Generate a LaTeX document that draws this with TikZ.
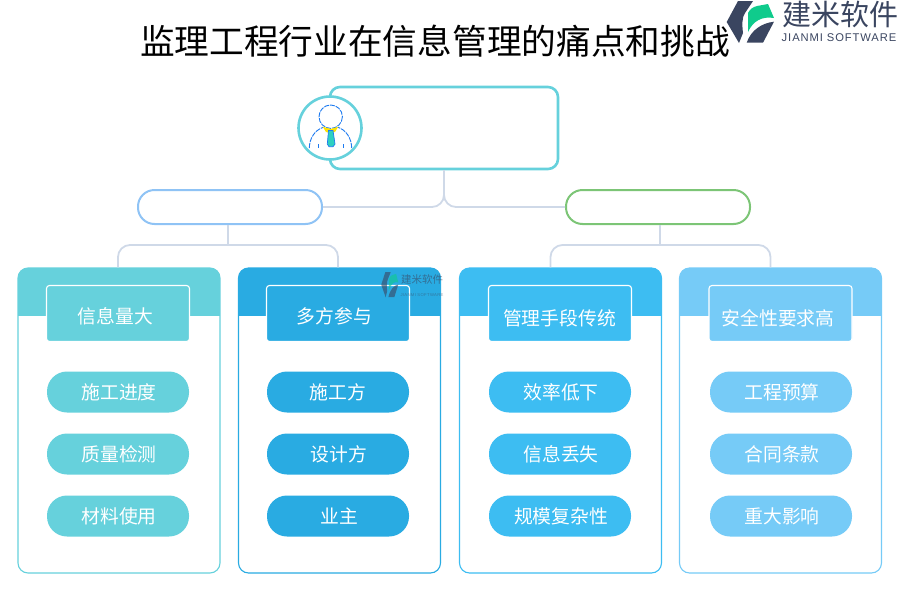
\documentclass[tikz,border=0pt]{standalone}
\usepackage{fontspec}
\setmainfont{Noto Sans CJK SC}
\newfontfamily\latinfont[LetterSpace=8]{Liberation Sans}
\definecolor{cola}{HTML}{66D1DC}
\definecolor{colb}{HTML}{29ABE2}
\definecolor{colc}{HTML}{3DBDF2}
\definecolor{cold}{HTML}{76CBF7}
\definecolor{conncol}{HTML}{CFD9E8}
\definecolor{groupblue}{HTML}{8FC3F5}
\definecolor{groupgreen}{HTML}{7CC576}
\definecolor{logodark}{HTML}{3A4560}
\definecolor{logogreen}{HTML}{0FCB8C}
\definecolor{iconblue}{HTML}{1E7BF0}
\definecolor{icontie}{HTML}{2FD0C0}
\tikzset{
  conn/.style={draw=conncol, line width=1.8pt, rounded corners=12pt},
  panel/.style={draw=#1, line width=1.1pt, fill=white, rounded corners=10pt,
    minimum width=202pt, minimum height=305pt, inner sep=0pt,
    path picture={\fill[#1, sharp corners] (path picture bounding box.north west) rectangle
      ([yshift=-48pt]path picture bounding box.north east);}},
  headbox/.style={draw=white, line width=1.1pt, fill=#1, rounded corners=3pt,
    minimum width=143pt, minimum height=56pt, inner sep=0pt},
  headtext/.style={text=white, inner sep=0pt, font=\fontsize{18.8}{20}\selectfont},
  itempill/.style={fill=#1, rounded corners=20pt, minimum width=142pt, minimum height=41pt, inner sep=0pt},
  itemtext/.style={text=white, inner sep=0pt, font=\fontsize{18.8}{20}\selectfont},
  groupill/.style={draw=#1, line width=2pt, fill=white, rounded corners=16.5pt,
    minimum width=184pt, minimum height=34pt, inner sep=0pt},
  iconline/.style={iconblue, line width=0.9pt}
}
\newcommand{\logomark}{
  \fill[logodark] (12,1) -- (0.7,22) -- (13,43) -- (17,33) .. controls (16,25) and (16,17) .. (19,13) -- (27,1) -- cycle;
  \fill[logogreen] (22,32) -- (22,13) .. controls (24,9) and (27,7) .. (31,6) -- (42,4) -- (48,18) .. controls (36,16) and (27,21) .. (22,32) -- cycle;
  \fill[logodark] (48,21.7) -- (37,42.7) -- (20.7,42.7) .. controls (25,30) and (36,23) .. (48,21.7) -- cycle;
}
\begin{document}
\begin{tikzpicture}[x=1pt, y=-1pt]
  \useasboundingbox (0,0) rectangle (900,600);

  % title and logo
  \node[font=\fontsize{34.7}{36}\selectfont, inner sep=0pt] (title) at (435,41) {监理工程行业在信息管理的痛点和挑战};
  \begin{scope}[xshift=726pt]
    \logomark
  \end{scope}
  \node[font=\fontsize{29}{30}\selectfont, text=logodark, inner sep=0pt] (brand) at (840,14) {建米软件};
  \node[font=\latinfont\fontsize{11.2}{12}\selectfont, text=logodark, inner sep=0pt] (brandsub) at (839,38) {JIANMI SOFTWARE};

  % root and the two groups
  \node[draw=cola, line width=2.6pt, fill=white, rounded corners=10pt, minimum width=228pt, minimum height=82pt] (root) at (444,128) {};
  \node[groupill=groupblue] (groupl) at (230,207) {};
  \node[groupill=groupgreen] (groupr) at (658,207) {};
  \draw[conn] (root.south) |- (groupl.east);
  \draw[conn] (root.south) |- (groupr.west);

  % person icon
  \node[circle, draw=cola, line width=2.6pt, fill=white, minimum size=63pt, inner sep=0pt] (avatar) at (330,128) {};
  \draw[iconline, dash pattern=on 5pt off 1pt] (330.7,116.7) circle (11.7);
  \draw[iconline, dash pattern=on 5pt off 1pt] (309.3,148) .. controls (309.5,138) and (315,130) .. (323.3,127.3);
  \draw[iconline, dash pattern=on 5pt off 1pt] (351.7,148) .. controls (351.5,138) and (346,130) .. (338,127.3);
  \draw[iconline] (318.3,144) -- (318.3,148);
  \draw[iconline] (343.3,144) -- (343.3,148);
  \fill[yellow!85!orange] (322.7,126.7) -- (330.7,129) -- (338.3,126.7) -- (335,132) -- (330.7,133) -- (326,132) -- cycle;
  \fill[icontie, draw=iconblue, line width=0.7pt] (328.5,130.5) -- (333,130.5) -- (335,144) -- (333,146.7) -- (329,146.7) -- (327.3,144) -- cycle;

  % panels
  \node[panel=cola] (panela) at (119,420.5) {};
  \node[panel=colb] (panelb) at (339.5,420.5) {};
  \node[panel=colc] (panelc) at (560.5,420.5) {};
  \node[panel=cold] (paneld) at (780.5,420.5) {};

  \coordinate (busl) at (228,245);
  \coordinate (busr) at (660,245);
  \draw[conn] (busl) -- (busl |- groupl.south);
  \draw[conn] (busr) -- (busr |- groupr.south);
  \draw[conn] ([xshift=-1pt]panela.north) |- (busl) -| ([xshift=-1.5pt]panelb.north);
  \draw[conn] ([xshift=-10pt]panelc.north) |- (busr) -| ([xshift=-10pt]paneld.north);

  % headers
  \node[headbox=cola] (heada) at (118,313.5) {};
  \node[headbox=colb] (headb) at (338,313.5) {};
  \node[headbox=colc] (headc) at (560,313.5) {};
  \node[headbox=cold] (headd) at (780.5,313.5) {};
  \node[headtext] (labela) at (115.5,316) {信息量大};
  \node[headtext] (labelb) at (334.5,316) {多方参与};
  \node[headtext] (labelc) at (559.5,318) {管理手段传统};
  \node[headtext] (labeld) at (778,318) {安全性要求高};

  % items
  \node[itempill=cola] (pilla1) at (118,392) {};
  \node[itempill=cola] (pilla2) at (118,454) {};
  \node[itempill=cola] (pilla3) at (118,516) {};
  \node[itempill=colb] (pillb1) at (338,392) {};
  \node[itempill=colb] (pillb2) at (338,454) {};
  \node[itempill=colb] (pillb3) at (338,516) {};
  \node[itempill=colc] (pillc1) at (560,392) {};
  \node[itempill=colc] (pillc2) at (560,454) {};
  \node[itempill=colc] (pillc3) at (560,516) {};
  \node[itempill=cold] (pilld1) at (781,392) {};
  \node[itempill=cold] (pilld2) at (781,454) {};
  \node[itempill=cold] (pilld3) at (781,516) {};
  \node[itemtext] (itema1) at (119,392) {施工进度};
  \node[itemtext] (itema2) at (119,454) {质量检测};
  \node[itemtext] (itema3) at (119,516) {材料使用};
  \node[itemtext] (itemb1) at (338,392) {施工方};
  \node[itemtext] (itemb2) at (339,454) {设计方};
  \node[itemtext] (itemb3) at (339,516) {业主};
  \node[itemtext] (itemc1) at (561,392) {效率低下};
  \node[itemtext] (itemc2) at (561,454) {信息丢失};
  \node[itemtext] (itemc3) at (561,516) {规模复杂性};
  \node[itemtext] (itemd1) at (782,392) {工程预算};
  \node[itemtext] (itemd2) at (782,454) {合同条款};
  \node[itemtext] (itemd3) at (782,516) {重大影响};

  % watermark
  \begin{scope}[shift={(381,271.5)}, xscale=0.36, yscale=0.6, opacity=0.6]
    \logomark
  \end{scope}
  \node[font=\fontsize{10.5}{11}\selectfont, text=logodark, opacity=0.6, inner sep=0pt] (markbrand) at (422,280) {建米软件};
  \node[font=\latinfont\fontsize{4.2}{5}\selectfont, text=logodark, opacity=0.5, inner sep=0pt] (marksub) at (422,295) {JIANMI SOFTWARE};
\end{tikzpicture}
\end{document}
